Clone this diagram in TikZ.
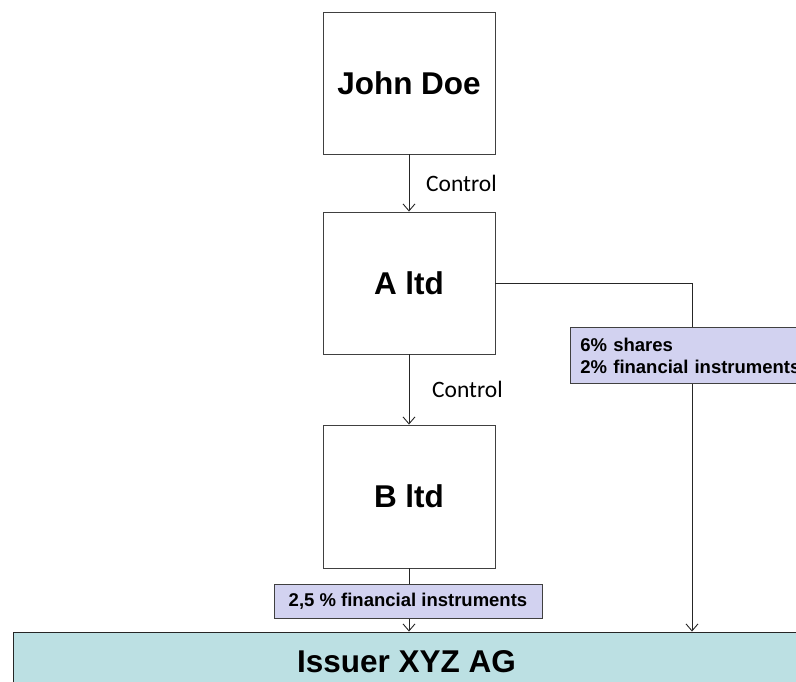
\documentclass[tikz,border=0pt]{standalone}
\usepackage{fontspec}
\setmainfont{Liberation Sans}
\newfontfamily\calfont{Carlito}
\usetikzlibrary{arrows.meta}
\definecolor{issuerfill}{HTML}{BCE0E3}
\definecolor{labelfill}{HTML}{D2D2F0}
\definecolor{boxline}{HTML}{404040}
\begin{document}
\begin{tikzpicture}[x=1pt,y=-1pt,
  entity/.style={draw=boxline,line width=0.9pt,fill=white,minimum width=172pt,minimum height=142pt,inner sep=0pt,font=\fontsize{31.5}{36}\selectfont\bfseries},
  holding/.style={draw=boxline,line width=0.9pt,fill=labelfill,inner sep=0pt,font=\fontsize{18.5}{22}\selectfont\bfseries},
  ctrl/.style={font=\calfont\fontsize{23.5}{27}\selectfont,inner sep=0pt,anchor=west},
  link/.style={draw=black!85,line width=0.9pt,-{Straight Barb[length=7pt,width=12pt,line width=0.9pt]}}]
\useasboundingbox (0,0) rectangle (796,681);
\clip (0,0) rectangle (796,681);
\fill[white] (0,0) rectangle (796,681);
\node[entity] (john) at (409,83) {John Doe};
\node[entity] (altd) at (409,283) {A ltd};
\node[entity,minimum height=143pt] (bltd) at (409,496.5) {B ltd};
\node[draw=black!85,line width=0.9pt,fill=issuerfill,minimum width=787pt,minimum height=60pt,inner sep=0pt,font=\fontsize{31.5}{36}\selectfont\bfseries] (issuer) at (406.5,662) {Issuer XYZ AG};
\coordinate (corner) at (692,283);
\coordinate (rdown) at (issuer.north -| corner);
\coordinate (ldown) at (issuer.north -| bltd.south);
\draw[link] (john.south) -- (altd.north);
\draw[link] (altd.south) -- (bltd.north);
\draw[link] (bltd.south) -- (ldown);
\draw[link] (altd.east |- corner) -- (corner) -- (rdown);
\node[ctrl] (c1) at (426,183) {Control};
\node[ctrl] (c2) at (432,389) {Control};
\node[holding,minimum width=268pt,minimum height=34pt] (l25) at (408,601) {2,5 \% financial instruments};
\node[holding,anchor=north west,minimum width=250pt,minimum height=56pt,text width=230pt,align=left,inner xsep=10pt,font=\fontsize{18.5}{22}\selectfont\bfseries] (l6) at (570,327) {6\% shares\\2\% financial instruments};
\end{tikzpicture}
\end{document}
